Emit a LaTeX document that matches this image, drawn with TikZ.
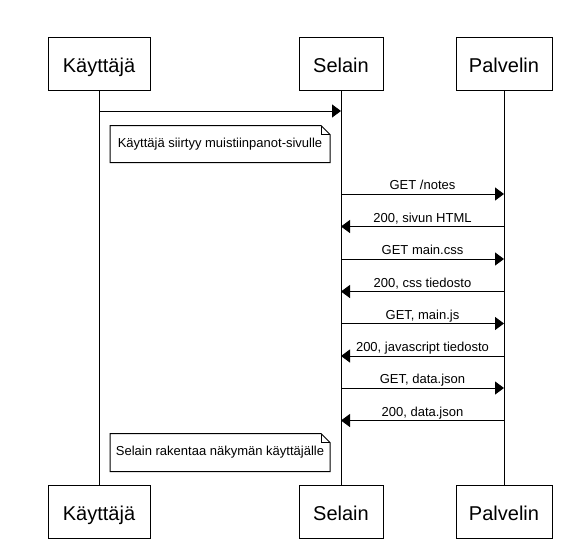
\documentclass[tikz,border=0pt]{standalone}
\usepackage{fontspec}
\setmainfont{Liberation Sans}
\usetikzlibrary{positioning,arrows.meta,calc}

\newcommand{\notefold}[1]{%
  \draw (#1.south west) -- (#1.north west) -- ([xshift=-9pt]#1.north east)
    -- ([yshift=-9pt]#1.north east) -- (#1.south east) -- cycle;
  \draw ([xshift=-9pt]#1.north east) -- ++(0,9) -- ([yshift=-9pt]#1.north east);}

\begin{document}
\begin{tikzpicture}[
    x=1pt, y=-1pt,
    line width=1pt,
    actor/.style={draw, minimum height=53pt, inner sep=0pt, text height=18pt, text depth=0pt, font=\fontsize{20}{24}\selectfont},
    msg/.style={-{Triangle[length=9pt, width=13pt]}},
    lbl/.style={above=0.5pt, inner sep=1pt, text height=9.5pt, text depth=2.5pt, font=\fontsize{13}{15}\selectfont},
    note/.style={minimum width=219pt, minimum height=36pt, inner sep=0pt, font=\fontsize{13}{15}\selectfont}
  ]
    \useasboundingbox (0,0) rectangle (580,541);

    \node[actor, minimum width=102pt] (k) at (99,63.5) {Käyttäjä};
    \node[actor, minimum width=84pt] (s) at (341,63.5) {Selain};
    \node[actor, minimum width=96pt] (p) at (504,63.5) {Palvelin};

    \node[actor, minimum width=102pt, below=394pt of k] (k2) {Käyttäjä};
    \node[actor, minimum width=84pt, below=394pt of s] (s2) {Selain};
    \node[actor, minimum width=96pt, below=394pt of p] (p2) {Palvelin};

    \draw (k) -- (k2);
    \draw (s) -- (s2);
    \draw (p) -- (p2);

    \draw[msg] (k |- 0,111) -- (s |- 0,111);

    \node[note] (n1) at (220,144) {Käyttäjä siirtyy muistiinpanot-sivulle};
    \notefold{n1}

    \draw[msg] (s |- 0,194) -- node[lbl] {GET /notes} (p |- 0,194);
    \draw[msg] (p |- 0,226.5) -- node[lbl] {200, sivun HTML} (s |- 0,226.5);
    \draw[msg] (s |- 0,259) -- node[lbl] {GET main.css} (p |- 0,259);
    \draw[msg] (p |- 0,291.5) -- node[lbl] {200, css tiedosto} (s |- 0,291.5);
    \draw[msg] (s |- 0,323.5) -- node[lbl] {GET, main.js} (p |- 0,323.5);
    \draw[msg] (p |- 0,356) -- node[lbl] {200, javascript tiedosto} (s |- 0,356);
    \draw[msg] (s |- 0,388) -- node[lbl] {GET, data.json} (p |- 0,388);
    \draw[msg] (p |- 0,420.5) -- node[lbl] {200, data.json} (s |- 0,420.5);

    \node[note, minimum height=37pt] (n2) at (220,452.5) {Selain rakentaa näkymän käyttäjälle};
    \notefold{n2}
  \end{tikzpicture}
\end{document}
